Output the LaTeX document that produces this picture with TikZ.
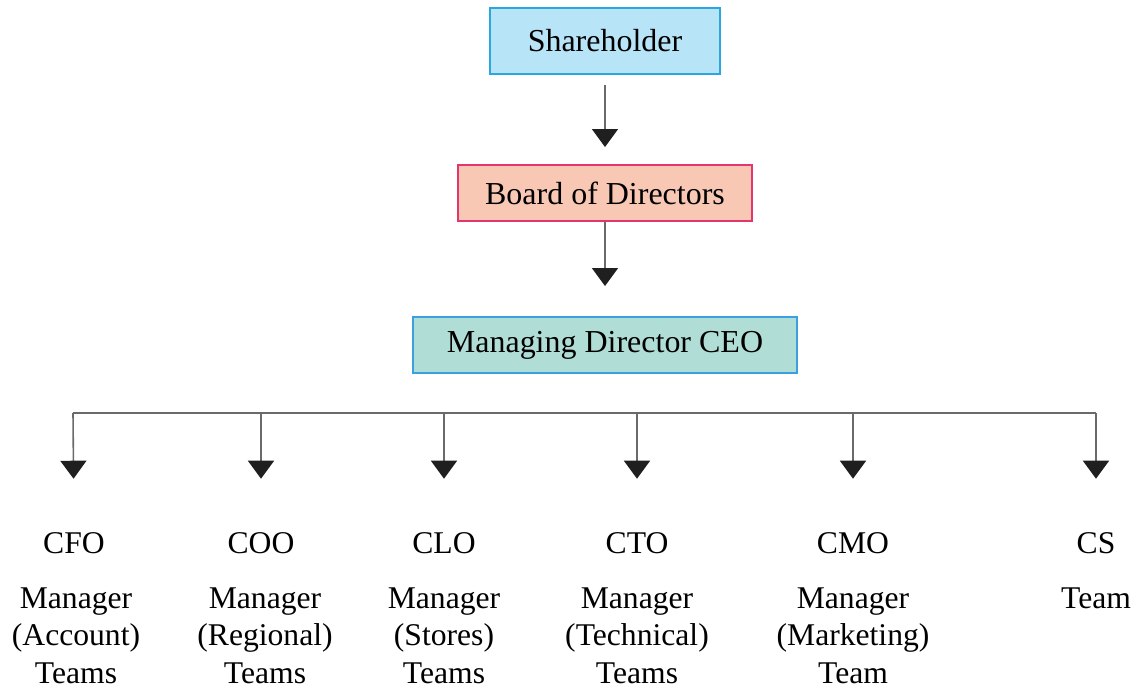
\documentclass[tikz,border=0pt]{standalone}
\usepackage{fontspec}
\setmainfont{Liberation Serif}
\usepackage{tikz}
\usetikzlibrary{arrows.meta}
\definecolor{shareFill}{HTML}{B8E4F8}
\definecolor{shareLine}{HTML}{29A8E0}
\definecolor{boardFill}{HTML}{F9C8B4}
\definecolor{boardLine}{HTML}{E4356E}
\definecolor{ceoFill}{HTML}{B0DED6}
\definecolor{ceoLine}{HTML}{3AA0E0}
\definecolor{wire}{HTML}{6A6A6A}
\tikzset{%
  >={Triangle[width=0.52cm,length=0.36cm,color=black!88]},
  % Specifications for style of nodes:
       box/.style = {rectangle, line width=1.1pt, inner sep=0pt,
                     text centered, font=\fontsize{18.2}{21.5}\selectfont},
  sharebox/.style = {box, draw=shareLine, fill=shareFill,
                     minimum width=4.6cm, minimum height=1.32cm},
  boardbox/.style = {box, draw=boardLine, fill=boardFill,
                     minimum width=5.88cm, minimum height=1.12cm},
    ceobox/.style = {box, draw=ceoLine, fill=ceoFill,
                     minimum width=7.68cm, minimum height=1.12cm},
     chief/.style = {inner sep=0pt, anchor=base, font=\fontsize{18}{21.5}\selectfont},
      team/.style = {inner sep=0pt, anchor=north, align=center,
                     font=\fontsize{18}{21.5}\selectfont},
      link/.style = {draw=wire, line width=0.9pt},
}
\begin{document}
\begin{tikzpicture}[x=0.02cm, y=-0.02cm]
  \useasboundingbox (0,0) rectangle (1137,692);
  \node (share) [sharebox] at (605,41)  {Shareholder};
  \node (board) [boardbox] at (605,193) {Board of Directors};
  \node (ceo)   [ceobox]   at (605,345) {Managing Director CEO};

  \coordinate (busL) at (73,413);
  \coordinate (busR) at (1096,413);

  \node (cfo) [chief] at (74,554)   {CFO};
  \node (coo) [chief] at (261,554)  {COO};
  \node (clo) [chief] at (444,554)  {CLO};
  \node (cto) [chief] at (637,554)  {CTO};
  \node (cmo) [chief] at (853,554)  {CMO};
  \node (cs)  [chief] at (1096,554) {CS};

  \node (cfoTeam) [team] at ([xshift=0.04cm,yshift=-0.66cm]cfo.base) {Manager\\(Account)\\Teams};
  \node (cooTeam) [team] at ([xshift=0.08cm,yshift=-0.66cm]coo.base) {Manager\\(Regional)\\Teams};
  \node (cloTeam) [team] at ([yshift=-0.66cm]clo.base) {Manager\\(Stores)\\Teams};
  \node (ctoTeam) [team] at ([yshift=-0.66cm]cto.base) {Manager\\(Technical)\\Teams};
  \node (cmoTeam) [team] at ([yshift=-0.66cm]cmo.base) {Manager\\(Marketing)\\Team};
  \node (csTeam)  [team] at ([yshift=-0.66cm]cs.base)  {Team};

  \draw[link, ->, shorten <=0.2cm, shorten >=0.34cm] (share) -- (board);
  \draw[link, ->, shorten >=0.6cm] (board) -- (ceo);

  \draw[link] (busL) -- (busR);
  \draw[link, ->, shorten >=1.08cm] (busL) -- (cfo.north);
  \draw[link, ->, shorten >=1.08cm] (busL -| coo) -- (coo.north);
  \draw[link, ->, shorten >=1.08cm] (busL -| clo) -- (clo.north);
  \draw[link, ->, shorten >=1.08cm] (busL -| cto) -- (cto.north);
  \draw[link, ->, shorten >=1.08cm] (busL -| cmo) -- (cmo.north);
  \draw[link, ->, shorten >=1.08cm] (busR) -- (cs.north);
\end{tikzpicture}
\end{document}
